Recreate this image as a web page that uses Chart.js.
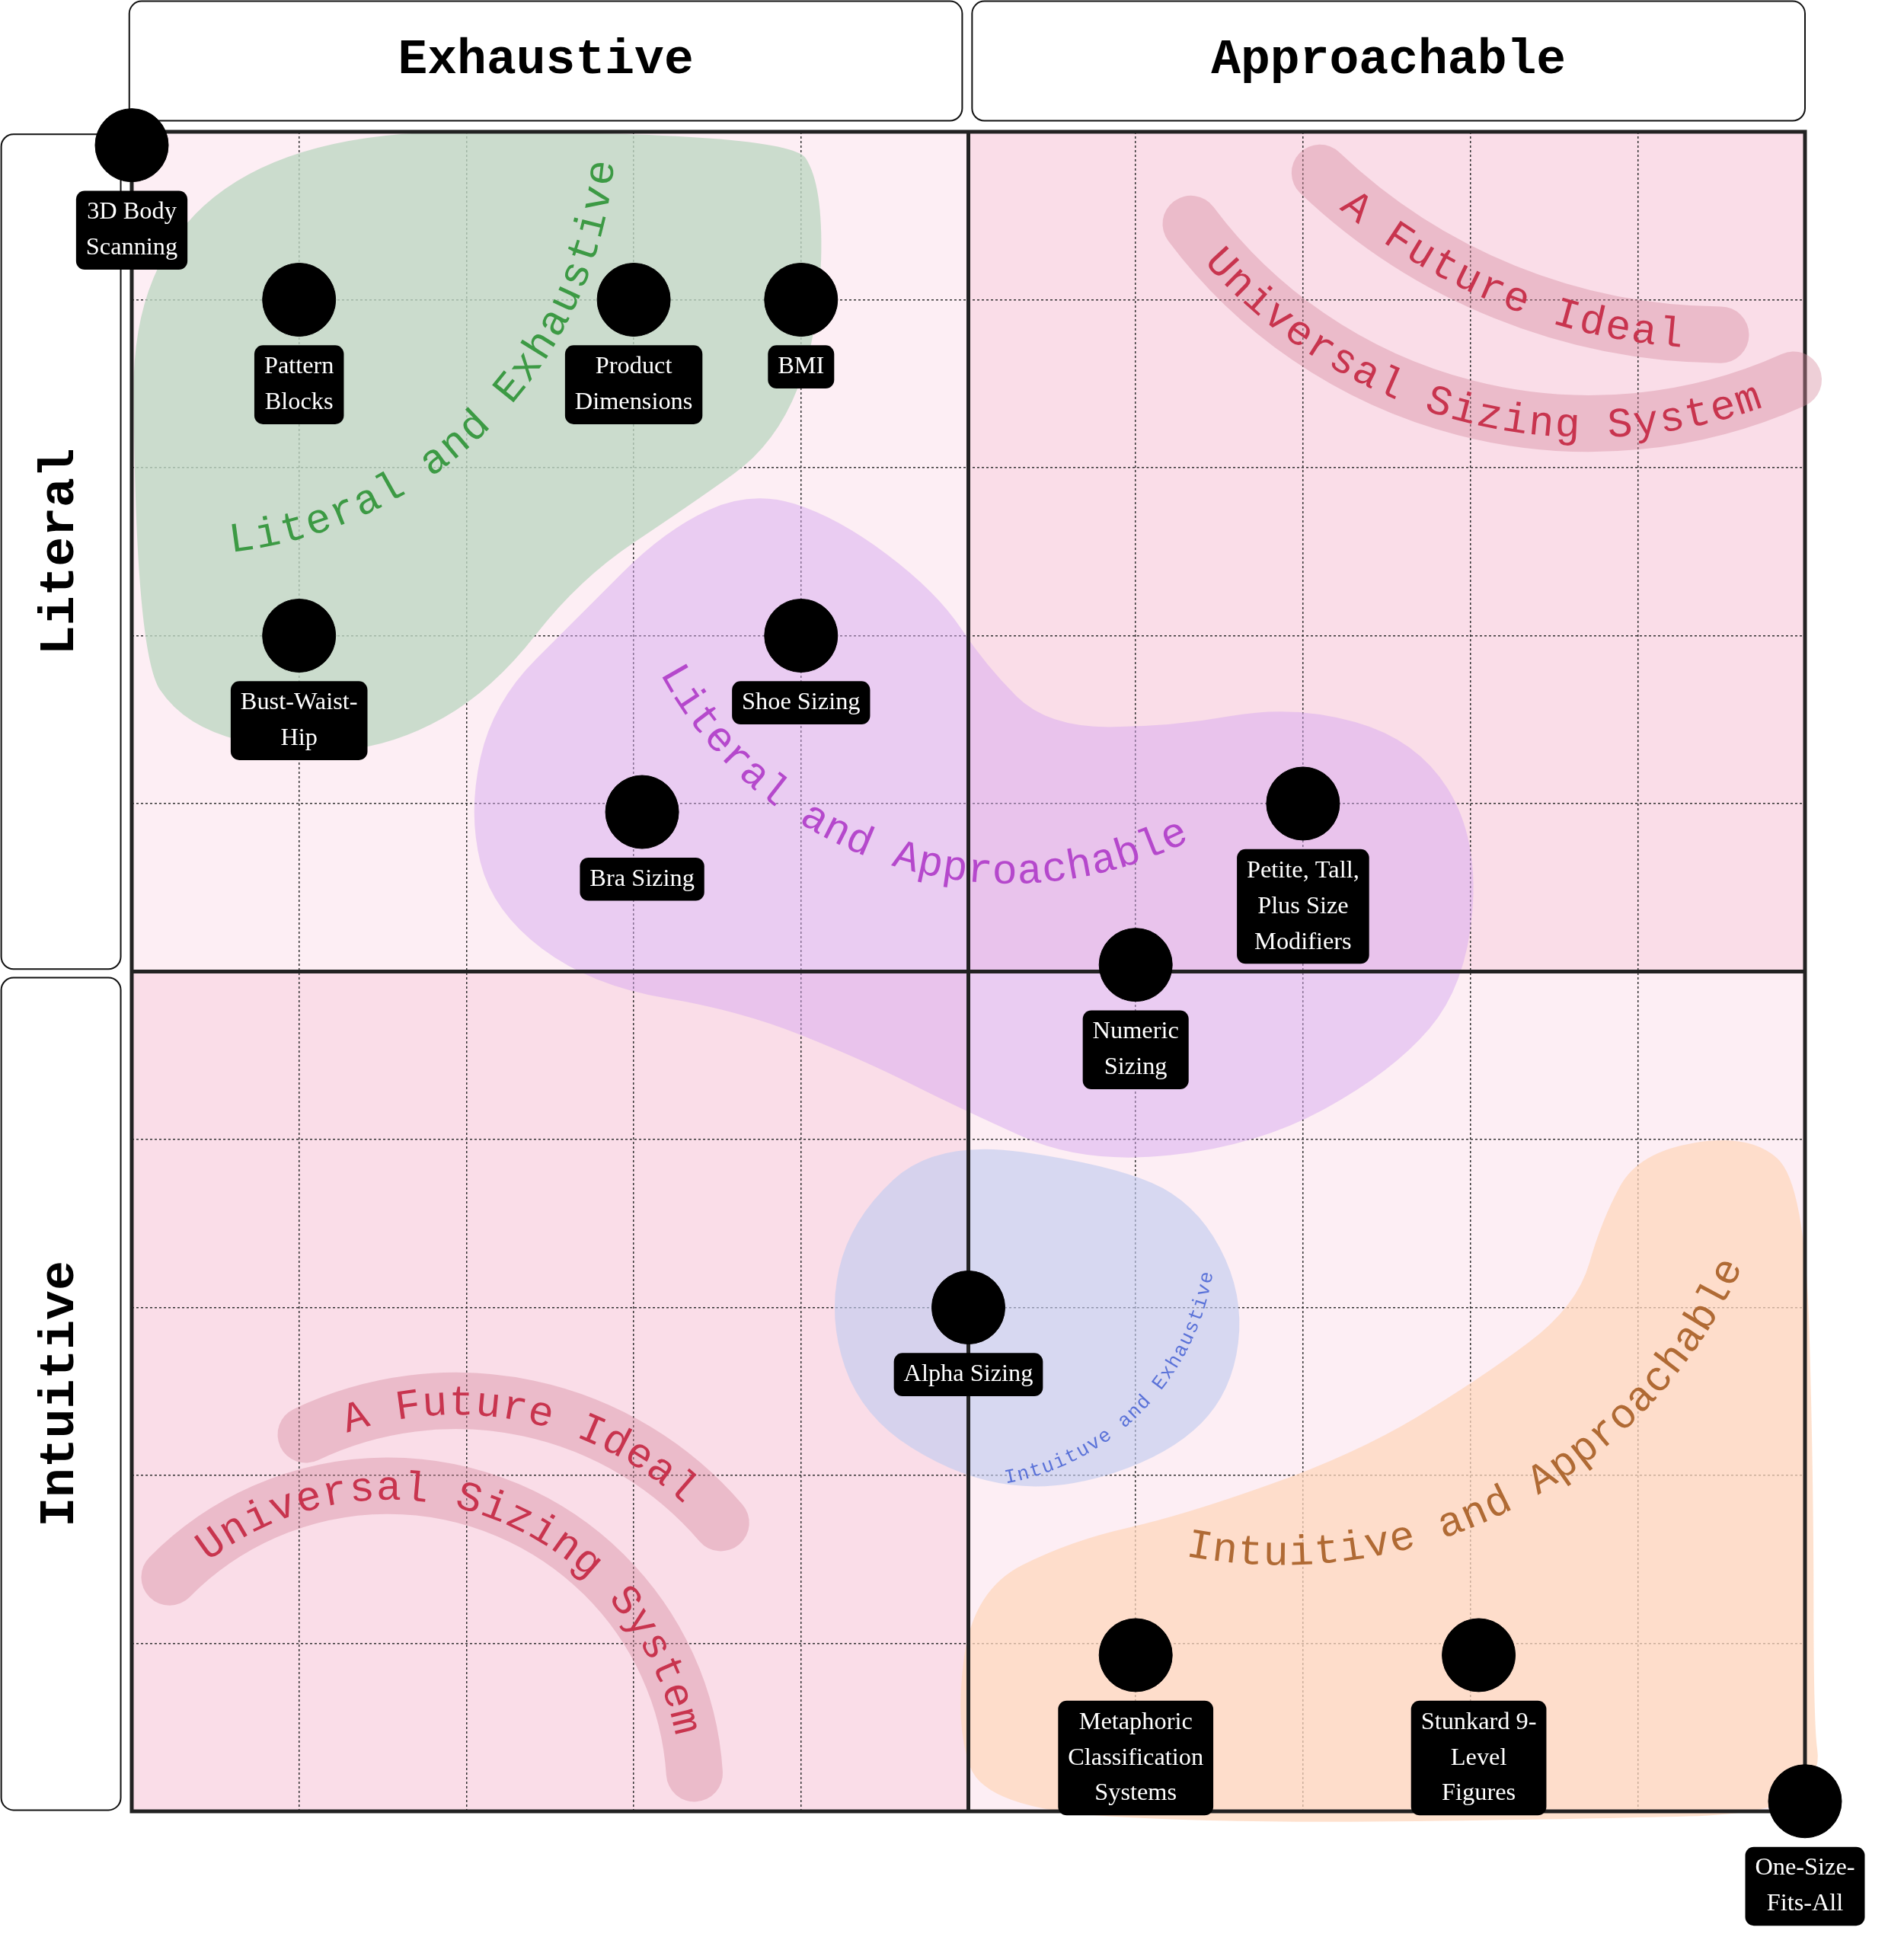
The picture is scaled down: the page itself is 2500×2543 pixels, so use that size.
<!DOCTYPE html>
<html><head><meta charset="utf-8">
<script src="https://cdn.jsdelivr.net/npm/chart.js@4"></script>
<style>html,body{margin:0;padding:0;background:#fff}</style>
</head><body>
<canvas id="c" width="2500" height="2543"></canvas>
<script>
const pointLabels = ['3D Body\nScanning','Pattern\nBlocks','Product\nDimensions','BMI','Bust-Waist-\nHip','Shoe Sizing','Bra Sizing','Petite, Tall,\nPlus Size\nModifiers','Numeric\nSizing','Alpha Sizing','Metaphoric\nClassification\nSystems','Stunkard 9-\nLevel\nFigures','One-Size-\nFits-All'];
const xValues = [0,1,3,4,1,4,3.05,7,6,5,6,8.05,10];
const yValues = [9.92,9,9,9,7,7,5.95,6,5.04,3,0.93,0.93,0.06];
const columnHeaders = ['Exhaustive','Approachable'];
const rowHeaders = ['Literal','Intuitive'];

const blobs = [
 {c:'rgba(190,215,195,0.80)', p:[[107,107],[640,107],[668,150],[665,270],[630,360],[560,410],[470,470],[400,560],[320,605],[240,612],[150,590],[110,530]]},
 {c:'rgba(215,170,240,0.50)', p:[[610,398],[680,420],[760,480],[800,540],[850,590],[950,590],[1050,572],[1150,600],[1200,680],[1190,800],[1130,870],[1020,930],[880,945],[780,900],[700,860],[600,820],[480,800],[400,740],[380,660],[400,570],[470,500],[540,430]]},
 {c:'rgba(195,205,240,0.65)', p:[[760,925],[900,945],[970,975],[1010,1050],[1000,1130],[950,1180],[860,1210],[780,1200],[700,1150],[672,1070],[690,990]]},
 {c:'rgba(253,215,190,0.75)', p:[[1330,935],[1420,920],[1465,960],[1472,1200],[1472,1400],[1478,1440],[1440,1472],[1300,1476],[1000,1480],[800,1468],[775,1400],[790,1290],[870,1250],[960,1230],[1100,1180],[1200,1120],[1280,1060],[1300,990]]}
];
const arcTexts = [
 {t:'Literal and Exhaustive', col:'#3c9a44', cx:150,cy:100,r:350,a0:84,a1:5,inward:true,fs:34},
 {t:'Literal and Approachable', col:'#b548cc', cx:820,cy:395,r:322,a0:152,a1:63,inward:true,fs:34},
 {t:'Intuituve and Exhaustive', col:'#5a72d8', cx:780,cy:1000,r:207,a0:80,a1:9,inward:true,fs:16},
 {t:'Intuitive and Approachable', col:'#b06a34', cx:1040,cy:860,r:410,a0:101,a1:24,inward:true,fs:34},
 {t:'A Future Ideal', col:'#c8344e', cx:1400,cy:-205,r:488,a0:130,a1:94,inward:true,fs:34,band:true},
 {t:'Universal Sizing System', col:'#c8344e', cx:1290,cy:-60,r:415,a0:139,a1:70,inward:true,fs:34,band:true},
 {t:'A Future Ideal', col:'#c8344e', cx:370,cy:1420,r:272,a0:-109,a1:-47,inward:false,fs:34,band:true},
 {t:'Universal Sizing System', col:'#c8344e', cx:315,cy:1455,r:238,a0:-128,a1:-11,inward:false,fs:34,band:true}
];

function rr(ctx,x,y,w,h,r){ctx.beginPath();ctx.moveTo(x+r,y);ctx.arcTo(x+w,y,x+w,y+h,r);ctx.arcTo(x+w,y+h,x,y+h,r);ctx.arcTo(x,y+h,x,y,r);ctx.arcTo(x,y,x+w,y,r);ctx.closePath();}

const plug = {
 id:'deco',
 beforeDraw(chart){
  const {ctx,chartArea:a,scales:{x,y}} = chart;
  const s=a.width/1358;
  ctx.save();
  ctx.fillStyle='#fff';ctx.fillRect(0,0,chart.width,chart.height);
  const mx=x.getPixelForValue(5), my=y.getPixelForValue(5);
  ctx.fillStyle='#fdeef4';ctx.fillRect(a.left,a.top,mx-a.left,my-a.top);
  ctx.fillStyle='#fadde8';ctx.fillRect(mx,a.top,a.right-mx,my-a.top);
  ctx.fillStyle='#fadde8';ctx.fillRect(a.left,my,mx-a.left,a.bottom-my);
  ctx.fillStyle='#fdeef4';ctx.fillRect(mx,my,a.right-mx,a.bottom-my);
  // headers
  ctx.lineWidth=2;ctx.strokeStyle='#111';
  ctx.textAlign='center';ctx.textBaseline='middle';
  const hf=`bold ${40*s}px "Liberation Mono", monospace`;
  const boxes=[[a.left-2*s,1*s,mx-a.left-3*s,97*s,columnHeaders[0],0],[mx+3*s,1*s,a.right-mx-3*s,97*s,columnHeaders[1],0],
   [1*s,a.top+2*s,97*s,my-a.top-4*s,rowHeaders[0],1],[1*s,my+5*s,97*s,a.bottom-my-6*s,rowHeaders[1],1]];
  for(const b of boxes){
   ctx.fillStyle='#fff';rr(ctx,b[0],b[1],b[2],b[3],10*s);ctx.fill();ctx.stroke();
   ctx.fillStyle='#000';ctx.font=hf;
   ctx.save();ctx.translate(b[0]+b[2]/2,b[1]+b[3]/2);if(b[5])ctx.rotate(-Math.PI/2);
   ctx.fillText(b[4],0,0);ctx.restore();
  }
  ctx.restore();
 },
 beforeDatasetsDraw(chart){
  const {ctx,chartArea:a,scales:{x,y}} = chart;
  const s = a.width/1358;
  const P=(X,Y)=>[a.left+(X-107)*s, a.top+(Y-107)*s];
  ctx.save();
  for(const b of blobs){
   const pts=b.p.map(q=>P(q[0],q[1]));const n=pts.length;
   ctx.beginPath();
   const m=(i)=>{const p=pts[i%n],q=pts[(i+1)%n];return[(p[0]+q[0])/2,(p[1]+q[1])/2];};
   let st=m(0);ctx.moveTo(st[0],st[1]);
   for(let i=1;i<=n;i++){const p=pts[i%n],e=m(i);ctx.quadraticCurveTo(p[0],p[1],e[0],e[1]);}
   ctx.closePath();ctx.fillStyle=b.c;ctx.fill();
  }
  ctx.strokeStyle='#222';ctx.lineWidth=5;
  ctx.strokeRect(a.left,a.top,a.width,a.height);
  const mx=x.getPixelForValue(5), my=y.getPixelForValue(5);
  ctx.beginPath();ctx.moveTo(mx,a.top);ctx.lineTo(mx,a.bottom);ctx.moveTo(a.left,my);ctx.lineTo(a.right,my);ctx.stroke();
  for(const t of arcTexts){
   const fs=t.fs*s; const [cx,cy]=P(t.cx,t.cy); const r=t.r*s;
   const a0=t.a0*Math.PI/180,a1=t.a1*Math.PI/180;
   if(t.band){
    const rb = t.inward ? r - 0.33*fs : r + 0.33*fs;
    const pad=0.9*fs/r;
    ctx.beginPath();
    if(a1<a0) ctx.arc(cx,cy,rb,a0+pad,a1-pad,true); else ctx.arc(cx,cy,rb,a0-pad,a1+pad,false);
    ctx.strokeStyle='rgba(215,140,160,0.42)';ctx.lineWidth=1.35*fs;ctx.lineCap='round';ctx.stroke();
   }
   ctx.font=`${fs}px "Liberation Mono", monospace`;ctx.fillStyle=t.col;ctx.textAlign='center';ctx.textBaseline='alphabetic';
   const n=t.t.length;
   for(let i=0;i<n;i++){
    const th=a0+(a1-a0)*(i+0.5)/n;
    ctx.save();ctx.translate(cx+r*Math.cos(th),cy+r*Math.sin(th));
    ctx.rotate(t.inward?th-Math.PI/2:th+Math.PI/2);
    ctx.fillText(t.t[i],0,0);ctx.restore();
   }
  }
  ctx.restore();
 },
 afterDatasetsDraw(chart){
  const {ctx,chartArea:a} = chart;
  const s=a.width/1358;
  const meta=chart.getDatasetMeta(0);
  ctx.save();
  const fs=20*s, lh=29*s;
  ctx.font=`${fs}px "Liberation Serif", serif`;ctx.textAlign='center';ctx.textBaseline='middle';
  meta.data.forEach((el,i)=>{
   const lines=pointLabels[i].split('\n');
   const w=Math.max(...lines.map(l=>ctx.measureText(l).width))+16*s;
   const h=lines.length*lh+6*s;
   const top=el.y+37*s;
   ctx.fillStyle='#000';rr(ctx,el.x-w/2,top,w,h,7*s);ctx.fill();
   ctx.fillStyle='#fff';
   lines.forEach((l,k)=>ctx.fillText(l,el.x,top+3*s+lh*(k+0.5)));
  });
  ctx.restore();
 }
};

new Chart(document.getElementById('c'),{
 type:'scatter',
 data:{datasets:[{data:xValues.map((v,i)=>({x:v,y:yValues[i]})),backgroundColor:'#000',borderColor:'#000',pointRadius:48,pointHoverRadius:48}]},
 options:{responsive:false,devicePixelRatio:1,animation:false,clip:false,
  layout:{padding:{left:173,top:173,right:130,bottom:165}},
  plugins:{legend:{display:false},tooltip:{enabled:false}},
  scales:{
   x:{type:'linear',min:0,max:10,ticks:{display:false,stepSize:1},border:{display:false,dash:[3,3]},grid:{color:'#333',lineWidth:1.5,drawTicks:false}},
   y:{type:'linear',min:0,max:10,ticks:{display:false,stepSize:1},border:{display:false,dash:[3,3]},grid:{color:'#333',lineWidth:1.5,drawTicks:false}}
  }},
 plugins:[plug]
});
</script>
</body></html>
